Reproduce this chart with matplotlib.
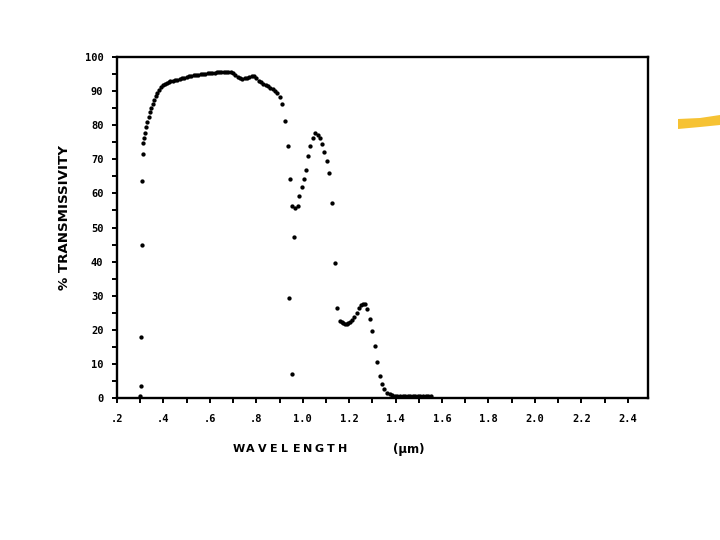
import matplotlib
matplotlib.use('Agg')
import matplotlib.pyplot as plt
from matplotlib.patches import Polygon
from matplotlib.ticker import MultipleLocator, FixedLocator

# Data (wavelength in micrometres, % transmissivity)
wavelength = [
    0.300, 0.302, 0.304, 0.306, 0.308, 0.310,
    0.313, 0.317, 0.321, 0.326, 0.331, 0.336, 0.341, 0.347, 0.353, 0.360,
    0.367, 0.374, 0.382, 0.390, 0.398, 0.406, 0.414, 0.422, 0.430,
    0.44, 0.45, 0.46, 0.47, 0.48, 0.49, 0.50, 0.51, 0.52, 0.53, 0.54,
    0.55, 0.56, 0.57, 0.58, 0.59, 0.60, 0.61, 0.62, 0.63, 0.64, 0.65,
    0.66, 0.67, 0.68, 0.69, 0.70, 0.71, 0.72, 0.73, 0.74, 0.75, 0.76,
    0.77, 0.78, 0.79, 0.80, 0.81, 0.82, 0.83, 0.84, 0.85, 0.86, 0.87,
    0.88, 0.89, 0.90, 0.91, 0.923, 0.935, 0.945, 0.942, 0.952, 0.962,
    0.952, 0.966, 0.980, 0.985, 0.995, 1.005, 1.014, 1.024, 1.032, 1.044,
    1.054, 1.065, 1.074, 1.084, 1.092, 1.103, 1.114, 1.124, 1.138, 1.148,
    1.160, 1.167, 1.174, 1.181, 1.189, 1.196, 1.203, 1.212, 1.220, 1.232,
    1.243, 1.253, 1.260, 1.268, 1.278, 1.289, 1.299, 1.311, 1.321, 1.331,
    1.341, 1.351, 1.364, 1.375, 1.386, 1.397, 1.408, 1.419, 1.430, 1.441,
    1.452, 1.463, 1.474, 1.485, 1.496, 1.507, 1.518, 1.529, 1.540, 1.551,
]
transmissivity = [
    0.7, 3.5, 17.8, 44.9, 63.7, 71.5,
    74.7, 76.2, 77.8, 79.5, 81.0, 82.5, 83.8, 85.0, 86.2, 87.4,
    88.5, 89.5, 90.4, 91.2, 91.8, 92.2, 92.5, 92.7, 92.9,
    93.0, 93.2, 93.4, 93.6, 93.7, 93.9, 94.1, 94.3, 94.5, 94.6, 94.7,
    94.8, 94.9, 95.0, 95.1, 95.2, 95.3, 95.3, 95.4, 95.5, 95.5, 95.6,
    95.7, 95.7, 95.6, 95.5, 95.2, 94.6, 94.0, 93.7, 93.6, 93.7, 93.9,
    94.2, 94.4, 94.3, 93.7, 93.1, 92.6, 92.1, 91.7, 91.4, 91.0, 90.6,
    90.1, 89.4, 88.3, 86.2, 81.2, 74.0, 64.2, 29.2, 7.0, 47.3,
    56.4, 55.6, 56.3, 59.1, 62.0, 64.2, 66.8, 71.0, 74.0, 76.1,
    77.7, 77.1, 76.3, 74.5, 72.0, 69.5, 65.9, 57.2, 39.5, 26.3,
    22.7, 22.2, 21.9, 21.7, 21.7, 21.9, 22.4, 23.0, 23.8, 25.0,
    26.3, 27.3, 27.6, 27.5, 26.0, 23.1, 19.7, 15.2, 10.6, 6.5,
    4.0, 2.6, 1.6, 1.1, 0.8, 0.6, 0.5, 0.5, 0.5, 0.5,
    0.5, 0.5, 0.5, 0.5, 0.5, 0.5, 0.5, 0.5, 0.5, 0.5,
]

x_ticks = [0.2, 0.4, 0.6, 0.8, 1.0, 1.2, 1.4, 1.6, 1.8, 2.0, 2.2, 2.4]
x_tick_labels = ['.2', '.4', '.6', '.8', '1.0', '1.2', '1.4', '1.6', '1.8', '2.0', '2.2', '2.4']
y_ticks = [0, 10, 20, 30, 40, 50, 60, 70, 80, 90, 100]
y_tick_labels = ['0', '10', '20', '30', '40', '50', '60', '70', '80', '90', '100']
x_label_text = 'WAVELENGTH'
x_label_unit = '(μm)'
y_label_text = '% TRANSMISSIVITY'

W, H = 720, 540
fig = plt.figure(figsize=(7.2, 5.4), dpi=100)
fig.patch.set_facecolor('white')
left, right, top, bottom = 117, 648, 57, 398
ax = fig.add_axes([left / W, 1 - bottom / H, (right - left) / W, (bottom - top) / H])

ax.plot(wavelength, transmissivity, linestyle='none', marker='o', markersize=3.1,
        markeredgewidth=0, color='black', clip_on=False, zorder=3)

ax.set_xlim(0.2, 2.487)
ax.set_ylim(0, 100)

ax.xaxis.set_major_locator(FixedLocator(x_ticks))
ax.set_xticklabels(x_tick_labels)
ax.xaxis.set_minor_locator(MultipleLocator(0.1))
ax.yaxis.set_major_locator(FixedLocator(y_ticks))
ax.set_yticklabels(y_tick_labels)
ax.yaxis.set_minor_locator(MultipleLocator(5))

for s in ax.spines.values():
    s.set_linewidth(1.7)
    s.set_color('black')

ax.tick_params(which='both', direction='out', length=3.8, width=1.4, color='black')
ax.tick_params(axis='x', which='major', pad=8)
ax.tick_params(axis='y', which='major', pad=6)

for lbl in ax.get_xticklabels() + ax.get_yticklabels():
    lbl.set_fontfamily('DejaVu Sans Mono')
    lbl.set_fontweight('bold')
    lbl.set_fontsize(7.5)

# x label: widely spaced blocky letters, placed one by one
x0, pitch = 239, 11.5
for i, ch in enumerate(x_label_text):
    fig.text((x0 + i * pitch) / W, 1 - 449 / H, ch, ha='center', va='center',
             fontfamily='DejaVu Sans', fontweight='bold', fontsize=8)
fig.text(393 / W, 1 - 449 / H, x_label_unit, ha='left', va='center',
         fontfamily='DejaVu Sans', fontweight='bold', fontsize=8.5)
fig.text(64 / W, 1 - 217 / H, y_label_text, ha='center', va='center', rotation=90,
         fontfamily='DejaVu Sans', fontweight='bold', fontsize=9.6)

# yellow highlighter stroke at the right edge of the scan
pts = [(678, 119), (700, 118), (720, 115), (720, 125), (700, 127), (678, 129)]
poly = Polygon([(x / W, 1 - y / H) for x, y in pts], closed=True,
               transform=fig.transFigure, facecolor='#F6C233', edgecolor='none')
fig.patches.append(poly)

fig.savefig('out.png', dpi=100, facecolor='white')
